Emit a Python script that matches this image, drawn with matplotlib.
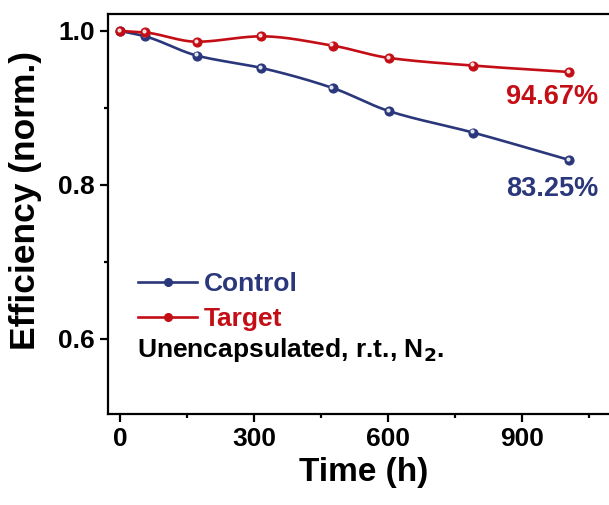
import numpy as np
import matplotlib
matplotlib.use("Agg")
import matplotlib.pyplot as plt
from matplotlib.transforms import offset_copy

plt.rcParams['font.family'] = ['Liberation Sans', 'DejaVu Sans']
plt.rcParams['font.weight'] = 'bold'
plt.rcParams['axes.labelweight'] = 'bold'
plt.rcParams['mathtext.default'] = 'bf'

# data
hours = [0, 56, 172, 316, 476, 602, 791, 1006]
control = [1.000, 0.993, 0.968, 0.952, 0.926, 0.896, 0.868, 0.8325]
target = [1.000, 0.998, 0.986, 0.993, 0.981, 0.965, 0.955, 0.9467]
labels = ['Control', 'Target']
end_labels = ['83.25%', '94.67%']

navy = '#2a377a'
red = '#c40e16'


def smooth(x, y, n=300):
    # monotone cubic (Fritsch-Carlson) curve, only for drawing the connecting line
    x = np.asarray(x, float)
    y = np.asarray(y, float)
    h = np.diff(x)
    d = np.diff(y) / h
    m = np.zeros_like(y)
    m[0], m[-1] = d[0], d[-1]
    for i in range(1, len(x) - 1):
        if d[i - 1] * d[i] > 0:
            w1 = 2 * h[i] + h[i - 1]
            w2 = h[i] + 2 * h[i - 1]
            m[i] = (w1 + w2) / (w1 / d[i - 1] + w2 / d[i])
    xs = np.linspace(x[0], x[-1], n)
    k = np.clip(np.searchsorted(x, xs) - 1, 0, len(x) - 2)
    t = (xs - x[k]) / h[k]
    h00 = 2 * t**3 - 3 * t**2 + 1
    h10 = t**3 - 2 * t**2 + t
    h01 = -2 * t**3 + 3 * t**2
    h11 = t**3 - t**2
    ys = h00 * y[k] + h10 * h[k] * m[k] + h01 * y[k + 1] + h11 * h[k] * m[k + 1]
    return xs, ys


fig = plt.figure(figsize=(6.09, 5.05), dpi=100)
ax = fig.add_axes([108 / 609, 91 / 505, 512 / 609, 400 / 505])

handles = []
for vals, col, lab in zip([control, target], [navy, red], labels):
    xs, ys = smooth(hours, vals)
    ax.plot(xs, ys, color=col, lw=1.9)
    ax.plot(hours, vals, 'o', color=col, ms=6.5, mec=col, mew=0.8)
    # small highlight to mimic shaded balls
    hl = offset_copy(ax.transData, fig=fig, x=-0.8, y=0.8, units='points')
    ax.plot(hours, vals, 'o', color='white', ms=2, alpha=0.8, transform=hl)
    h, = ax.plot([], [], '-o', color=col, lw=1.9, ms=5.5)
    handles.append(h)

ax.text(1072, 0.9147, end_labels[1], color=red, fontsize=19.5, ha='right', va='center')
ax.text(1072, 0.7948, end_labels[0], color=navy, fontsize=19.5, ha='right', va='center')

ax.legend(handles, labels, loc='upper left', bbox_to_anchor=(0.012, 0.415), frameon=False,
          fontsize=19, handlelength=2.25, handletextpad=0.25, labelspacing=0.42,
          labelcolor='linecolor')
ax.text(0.057, 0.16, 'Unencapsulated, r.t., N$_2$.', transform=ax.transAxes,
        fontsize=19, va='center', ha='left')

ax.set_xlim(-27, 1120)
ax.set_ylim(0.5026, 1.022)
ax.set_xticks([0, 300, 600, 900])
ax.set_xticks(np.arange(150, 1100, 300), minor=True)
ax.set_yticks([0.6, 0.8, 1.0])
ax.set_yticks([0.7, 0.9], minor=True)
ax.set_yticklabels(['0.6', '0.8', '1.0'])
ax.tick_params(which='major', direction='out', length=6, width=1.6, labelsize=19)
ax.tick_params(which='minor', direction='out', length=3, width=1.6)
for s in ax.spines.values():
    s.set_linewidth(1.6)
ax.spines['right'].set_visible(False)

ax.set_xlabel('Time (h)', fontsize=24, labelpad=4)
ax.set_ylabel('Efficiency (norm.)', fontsize=25.5)
ax.yaxis.set_label_coords(-0.128, 0.535)

fig.savefig('out.png', dpi=100)
